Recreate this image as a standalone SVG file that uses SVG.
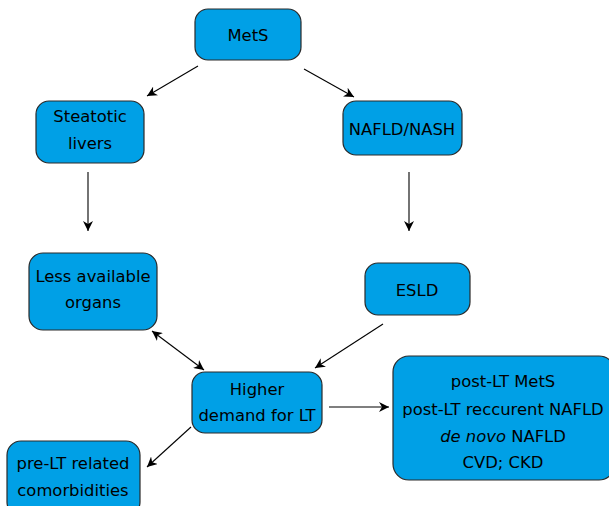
<svg xmlns="http://www.w3.org/2000/svg" width="609" height="506" viewBox="0 0 609 506">
<defs>
<style>
.box{fill:#00A0E6;stroke:#2a2a2a;stroke-width:1.2}
.t{font-family:"DejaVu Sans","Liberation Sans",sans-serif;font-size:16.4px;fill:#000;text-anchor:middle}
.c{stroke:#000;stroke-width:1.1;fill:none;marker-end:url(#ah)}
</style>
<marker id="ah" viewBox="0 0 10 10" refX="10" refY="5" markerWidth="10" markerHeight="10" markerUnits="userSpaceOnUse" orient="auto-start-reverse">
<path d="M0,0 L10,5 L0,10 L3,5 Z" fill="#000"/>
</marker>
</defs>
<rect width="609" height="506" fill="#fff"/>
<g id="connectors">
<line class="c" x1="198" y1="66" x2="147" y2="96"/>
<line class="c" x1="304" y1="69" x2="354" y2="97"/>
<line class="c" x1="88" y1="172" x2="88" y2="231"/>
<line class="c" x1="409" y1="172" x2="409" y2="231"/>
<line class="c" x1="152" y1="331" x2="204" y2="370" style="marker-start:url(#ah)"/>
<line class="c" x1="383" y1="324" x2="315" y2="368"/>
<line class="c" x1="329" y1="407" x2="389" y2="407"/>
<line class="c" x1="191" y1="427" x2="147" y2="467"/>
</g>
<g id="mets"><rect class="box" x="195" y="9" width="106" height="51" rx="13"/><text class="t" x="248" y="41">MetS</text></g>
<g id="steatotic"><rect class="box" x="36" y="101" width="108" height="62" rx="13"/><text class="t" x="90" y="122">Steatotic</text><text class="t" x="90" y="149">livers</text></g>
<g id="nafld"><rect class="box" x="343" y="101" width="119" height="54" rx="13"/><text class="t" x="402" y="135">NAFLD/NASH</text></g>
<g id="less"><rect class="box" x="29" y="253" width="128" height="77" rx="14"/><text class="t" x="93" y="282">Less available</text><text class="t" x="93" y="308">organs</text></g>
<g id="esld"><rect class="box" x="365" y="263" width="105" height="52" rx="13"/><text class="t" x="417" y="296">ESLD</text></g>
<g id="higher"><rect class="box" x="192" y="372" width="130" height="61" rx="13"/><text class="t" x="257" y="395">Higher</text><text class="t" x="257" y="421">demand for LT</text></g>
<g id="post"><rect class="box" x="393" y="356" width="222" height="124" rx="16"/><text class="t" x="503" y="387">post-LT MetS</text><text class="t" x="503" y="415">post-LT reccurent NAFLD</text><text class="t" x="503" y="442"><tspan font-style="italic">de novo</tspan> NAFLD</text><text class="t" x="503" y="468">CVD; CKD</text></g>
<g id="pre"><rect class="box" x="7" y="441" width="133" height="75" rx="14"/><text class="t" x="73" y="469">pre-LT related</text><text class="t" x="73" y="496">comorbidities</text></g>
</svg>
